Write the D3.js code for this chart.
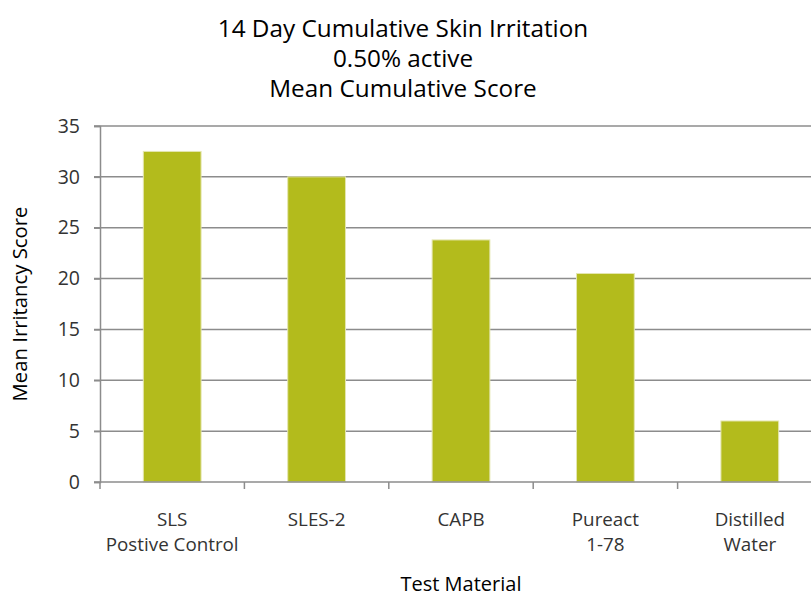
<!DOCTYPE html>
<html>
<head>
<meta charset="utf-8">
<script src="https://d3js.org/d3.v7.min.js"></script>
<style>
  body { margin: 0; background: #fff; }
  text { font-family: "Open Sans", sans-serif; }
</style>
</head>
<body>
<div id="chart"></div>
<script>
var width = 811, height = 597;

// data
var categories = [["SLS", "Postive Control"], ["SLES-2"], ["CAPB"], ["Pureact", "1-78"], ["Distilled", "Water"]];
var scores = [32.5, 30, 23.8, 20.5, 6];
var yTicks = [0, 5, 10, 15, 20, 25, 30, 35];
var titleLines = ["14 Day Cumulative Skin Irritation", "0.50% active", "Mean Cumulative Score"];

var margin = {left: 100, top: 126, bottom: 115};
var plotW = 722; // runs past the right edge like the original
var plotH = height - margin.top - margin.bottom;

var svg = d3.select("#chart").append("svg")
    .attr("width", width)
    .attr("height", height);

var x = d3.scaleBand()
    .domain(d3.range(categories.length))
    .range([margin.left, margin.left + plotW])
    .paddingInner(0.6)
    .paddingOuter(0.3);

var y = d3.scaleLinear()
    .domain([0, 35])
    .range([margin.top + plotH, margin.top]);

// gridlines
svg.append("g")
  .selectAll("line")
  .data(yTicks.filter(function(d) { return d > 0; }))
  .enter().append("line")
    .attr("x1", margin.left - 6)
    .attr("x2", margin.left + plotW)
    .attr("y1", function(d) { return y(d); })
    .attr("y2", function(d) { return y(d); })
    .attr("stroke", "#8c8c8c")
    .attr("stroke-width", 1.5);

// bars
svg.append("g")
  .selectAll("rect")
  .data(scores)
  .enter().append("rect")
    .attr("x", function(d, i) { return x(i); })
    .attr("y", function(d) { return y(d); })
    .attr("width", x.bandwidth())
    .attr("height", function(d) { return y(0) - y(d); })
    .attr("fill", "#b3bb1c")
    .attr("stroke", "#e4e6b0")
    .attr("stroke-width", 1);

// y axis
var yAxis = svg.append("g")
    .attr("transform", "translate(" + margin.left + ",0)")
    .call(d3.axisLeft(y).tickValues(yTicks).tickSize(6).tickPadding(14));
yAxis.select(".domain").attr("stroke", "#8c8c8c").attr("stroke-width", 1.5);
yAxis.selectAll(".tick line").attr("stroke", "#8c8c8c").attr("stroke-width", 1.5);
yAxis.selectAll(".tick text")
    .attr("font-size", 19.5)
    .attr("font-family", "Open Sans, sans-serif")
    .attr("fill", "#333");

// x axis: baseline plus ticks between categories
var bounds = d3.range(categories.length + 1).map(function(i) { return margin.left + i * plotW / categories.length; });
svg.append("line")
    .attr("x1", margin.left - 6)
    .attr("x2", margin.left + plotW)
    .attr("y1", y(0))
    .attr("y2", y(0))
    .attr("stroke", "#8c8c8c")
    .attr("stroke-width", 1.5);
svg.append("g")
  .selectAll("line")
  .data(bounds)
  .enter().append("line")
    .attr("x1", function(d) { return d; })
    .attr("x2", function(d) { return d; })
    .attr("y1", y(0))
    .attr("y2", y(0) + 7)
    .attr("stroke", "#8c8c8c")
    .attr("stroke-width", 1.5);

// category labels
var labels = svg.append("g")
  .selectAll("text")
  .data(categories)
  .enter().append("text")
    .attr("text-anchor", "middle")
    .attr("font-size", 18.8)
    .attr("fill", "#333")
    .attr("x", function(d, i) { return x(i) + x.bandwidth() / 2; })
    .attr("y", y(0) + 44);
labels.selectAll("tspan")
  .data(function(d) { return d; })
  .enter().append("tspan")
    .attr("x", function() { return d3.select(this.parentNode).attr("x"); })
    .attr("dy", function(d, i) { return i === 0 ? 0 : 25; })
    .text(function(d) { return d; });

// title
svg.append("text")
    .attr("text-anchor", "middle")
    .attr("font-size", 24.3)
    .attr("fill", "#000")
    .selectAll("tspan")
    .data(titleLines)
    .enter().append("tspan")
      .attr("x", 403)
      .attr("y", function(d, i) { return 37 + i * 30; })
      .text(function(d) { return d; });

// axis titles
svg.append("text")
    .attr("text-anchor", "middle")
    .attr("font-size", 20)
    .attr("fill", "#000")
    .attr("x", margin.left + plotW / 2)
    .attr("y", 591)
    .text("Test Material");

svg.append("text")
    .attr("text-anchor", "middle")
    .attr("font-size", 20.3)
    .attr("fill", "#000")
    .attr("transform", "translate(27," + (y(0) + y(35)) / 2 + ") rotate(-90)")
    .text("Mean Irritancy Score");
</script>
</body>
</html>
